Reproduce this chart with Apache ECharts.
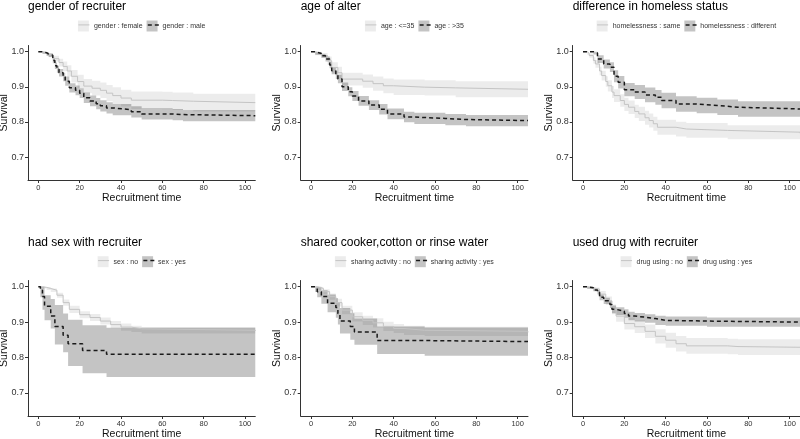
<!DOCTYPE html>
<html><head><meta charset="utf-8">
<script src="https://cdn.jsdelivr.net/npm/echarts@6/dist/echarts.min.js"></script>
<style>html,body{margin:0;padding:0;background:#fff}#c{width:800px;height:439px}</style>
</head><body><div id="c"></div>
<script>
// ---------------- data ----------------
const panelTitles = ['gender of recruiter', 'age of alter', 'difference in homeless status',
  'had sex with recruiter', 'shared cooker,cotton or rinse water', 'used drug with recruiter'];
const groupLabels = [
  ['gender : female', 'gender : male'],
  ['age : <=35', 'age : >35'],
  ['homelessness : same', 'homelessness : different'],
  ['sex : no', 'sex : yes'],
  ['sharing activity : no', 'sharing activity : yes'],
  ['drug using : no', 'drug using : yes']
];
const xTicks = [0, 20, 40, 60, 80, 100];
const yTicks = [0.7, 0.8, 0.9, 1.0];

// gender
const femaleTime  = [0, 2, 4, 5, 7, 10, 12, 14, 16, 19, 22, 26, 30, 33, 36, 40, 45, 60, 65, 75, 105];
const femaleSurv  = [1.0, 0.997, 0.994, 0.99, 0.98, 0.969, 0.958, 0.945, 0.93, 0.915, 0.902, 0.896, 0.89, 0.882, 0.875, 0.868, 0.862, 0.861, 0.859, 0.855, 0.855];
const femaleUpper = [1.0, 1.0, 0.999, 0.996, 0.988, 0.98, 0.972, 0.961, 0.948, 0.934, 0.922, 0.917, 0.912, 0.905, 0.899, 0.892, 0.887, 0.886, 0.884, 0.880, 0.880];
const femaleLower = [1.0, 0.993, 0.988, 0.984, 0.972, 0.958, 0.944, 0.929, 0.912, 0.896, 0.882, 0.875, 0.868, 0.859, 0.851, 0.844, 0.837, 0.836, 0.834, 0.830, 0.830];
const maleTime  = [0, 2, 4, 5, 7, 8, 9, 10, 12, 13, 15, 18, 20, 22, 25, 28, 30, 33, 36, 45, 50, 65, 70, 105];
const maleSurv  = [1.0, 0.997, 0.993, 0.99, 0.975, 0.96, 0.95, 0.94, 0.928, 0.916, 0.897, 0.89, 0.882, 0.869, 0.86, 0.852, 0.846, 0.84, 0.835, 0.829, 0.823, 0.821, 0.818, 0.817];
const maleUpper = [1.0, 1.0, 0.998, 0.995, 0.983, 0.969, 0.96, 0.951, 0.94, 0.929, 0.91, 0.904, 0.896, 0.884, 0.875, 0.868, 0.862, 0.856, 0.851, 0.845, 0.839, 0.837, 0.834, 0.833];
const maleLower = [1.0, 0.994, 0.988, 0.985, 0.967, 0.951, 0.94, 0.929, 0.916, 0.903, 0.884, 0.876, 0.868, 0.854, 0.845, 0.836, 0.83, 0.824, 0.819, 0.813, 0.807, 0.805, 0.802, 0.801];

// age
const youngTime  = [0, 2, 5, 8, 10, 13, 15, 25, 30, 35, 40, 55, 70, 105];
const youngSurv  = [1.0, 0.995, 0.989, 0.974, 0.955, 0.94, 0.922, 0.916, 0.909, 0.903, 0.899, 0.897, 0.893, 0.893];
const youngUpper = [1.0, 1.0, 0.996, 0.986, 0.97, 0.957, 0.94, 0.935, 0.929, 0.924, 0.921, 0.919, 0.916, 0.916];
const youngLower = [1.0, 0.99, 0.982, 0.962, 0.94, 0.923, 0.904, 0.897, 0.889, 0.882, 0.877, 0.875, 0.870, 0.870];
const olderTime  = [0, 2, 5, 7, 9, 10, 12, 13, 15, 18, 20, 23, 28, 33, 37, 45, 50, 65, 75, 105];
const olderSurv  = [1.0, 0.995, 0.988, 0.979, 0.962, 0.946, 0.933, 0.922, 0.9, 0.886, 0.874, 0.86, 0.848, 0.836, 0.823, 0.814, 0.81, 0.807, 0.804, 0.804];
const olderUpper = [1.0, 0.999, 0.993, 0.986, 0.971, 0.956, 0.944, 0.934, 0.912, 0.899, 0.888, 0.874, 0.862, 0.851, 0.838, 0.829, 0.826, 0.823, 0.82, 0.82];
const olderLower = [1.0, 0.991, 0.983, 0.972, 0.953, 0.936, 0.922, 0.91, 0.888, 0.873, 0.86, 0.846, 0.834, 0.821, 0.808, 0.799, 0.794, 0.791, 0.788, 0.788];

// homelessness
const sameTime  = [0, 2, 3, 5, 6, 8, 9, 11, 12, 14, 15, 18, 20, 22, 25, 27, 30, 32, 34, 36, 45, 50, 70, 105];
const sameSurv  = [1.0, 0.995, 0.989, 0.975, 0.965, 0.945, 0.932, 0.915, 0.903, 0.885, 0.875, 0.861, 0.85, 0.842, 0.83, 0.823, 0.812, 0.804, 0.795, 0.785, 0.78, 0.776, 0.771, 0.768];
const sameUpper = [1.0, 0.999, 0.995, 0.984, 0.976, 0.957, 0.946, 0.93, 0.919, 0.902, 0.893, 0.879, 0.869, 0.861, 0.849, 0.843, 0.832, 0.824, 0.815, 0.806, 0.801, 0.797, 0.791, 0.788];
const sameLower = [1.0, 0.991, 0.983, 0.966, 0.954, 0.933, 0.918, 0.9, 0.887, 0.868, 0.857, 0.843, 0.831, 0.823, 0.811, 0.803, 0.792, 0.784, 0.775, 0.764, 0.759, 0.755, 0.751, 0.748];
const diffTime  = [0, 5, 7, 10, 13, 15, 17, 20, 25, 30, 35, 38, 45, 55, 65, 75, 105];
const diffSurv  = [1.0, 0.996, 0.979, 0.965, 0.956, 0.93, 0.913, 0.892, 0.885, 0.877, 0.87, 0.861, 0.851, 0.847, 0.842, 0.837, 0.837];
const diffUpper = [1.0, 1.0, 0.99, 0.978, 0.97, 0.947, 0.931, 0.911, 0.905, 0.898, 0.891, 0.883, 0.873, 0.869, 0.864, 0.859, 0.859];
const diffLower = [1.0, 0.992, 0.968, 0.952, 0.942, 0.913, 0.895, 0.873, 0.865, 0.856, 0.849, 0.839, 0.829, 0.825, 0.82, 0.815, 0.815];

// sex
const sexNoTime  = [0, 2, 4, 6, 9, 12, 15, 20, 25, 30, 35, 40, 45, 50, 105];
const sexNoSurv  = [1.0, 0.998, 0.995, 0.99, 0.976, 0.955, 0.936, 0.921, 0.913, 0.903, 0.893, 0.886, 0.881, 0.877, 0.875];
const sexNoUpper = [1.0, 1.0, 0.999, 0.995, 0.983, 0.964, 0.946, 0.931, 0.923, 0.913, 0.903, 0.896, 0.89, 0.886, 0.884];
const sexNoLower = [1.0, 0.995, 0.991, 0.985, 0.969, 0.946, 0.926, 0.911, 0.903, 0.893, 0.883, 0.876, 0.872, 0.868, 0.866];
const sexYesTime  = [0, 1, 2, 3, 6, 8, 12, 14.4, 21.4, 33, 105];
const sexYesSurv  = [1.0, 0.99, 0.972, 0.945, 0.917, 0.888, 0.863, 0.839, 0.82, 0.809, 0.809];
const sexYesUpper = [1.0, 1.0, 1.0, 0.976, 0.965, 0.948, 0.924, 0.907, 0.891, 0.884, 0.884];
const sexYesLower = [1.0, 0.97, 0.935, 0.905, 0.882, 0.837, 0.815, 0.776, 0.756, 0.745, 0.745];

// sharing
const shareNoTime  = [0, 3, 6, 9, 12, 15, 20, 25, 30, 35, 40, 45, 55, 105];
const shareNoSurv  = [1.0, 0.995, 0.986, 0.972, 0.955, 0.934, 0.915, 0.905, 0.898, 0.888, 0.882, 0.877, 0.874, 0.871];
const shareNoUpper = [1.0, 0.999, 0.993, 0.981, 0.966, 0.946, 0.928, 0.918, 0.911, 0.901, 0.895, 0.89, 0.887, 0.885];
const shareNoLower = [1.0, 0.991, 0.979, 0.963, 0.944, 0.922, 0.902, 0.892, 0.885, 0.875, 0.869, 0.864, 0.861, 0.857];
const shareYesTime  = [0, 2, 3, 5, 8, 12, 13, 14, 19, 21, 32, 55, 105];
const shareYesSurv  = [1.0, 0.995, 0.986, 0.972, 0.953, 0.941, 0.924, 0.903, 0.888, 0.872, 0.848, 0.845, 0.845];
const shareYesUpper = [1.0, 1.0, 1.0, 0.99, 0.978, 0.968, 0.955, 0.94, 0.925, 0.91, 0.888, 0.885, 0.885];
const shareYesLower = [1.0, 0.985, 0.97, 0.952, 0.928, 0.912, 0.893, 0.868, 0.85, 0.836, 0.81, 0.805, 0.805];

// drug use
const drugNoTime  = [0, 2, 5, 8, 11, 14, 16, 20, 25, 30, 35, 40, 45, 50, 70, 75, 105];
const drugNoSurv  = [1.0, 0.997, 0.993, 0.979, 0.96, 0.936, 0.917, 0.896, 0.887, 0.874, 0.86, 0.849, 0.839, 0.833, 0.831, 0.829, 0.829];
const drugNoUpper = [1.0, 1.0, 0.998, 0.988, 0.972, 0.95, 0.933, 0.913, 0.905, 0.893, 0.88, 0.87, 0.861, 0.855, 0.853, 0.852, 0.852];
const drugNoLower = [1.0, 0.994, 0.988, 0.97, 0.948, 0.922, 0.901, 0.879, 0.869, 0.855, 0.84, 0.828, 0.817, 0.811, 0.809, 0.807, 0.807];
const drugYesTime  = [0, 2, 5, 7, 8, 10, 13, 14, 16, 20, 22, 25, 30, 35, 40, 60, 105];
const drugYesSurv  = [1.0, 0.997, 0.991, 0.984, 0.97, 0.96, 0.95, 0.936, 0.931, 0.924, 0.917, 0.914, 0.91, 0.905, 0.903, 0.9, 0.898];
const drugYesUpper = [1.0, 1.0, 0.995, 0.99, 0.978, 0.969, 0.96, 0.947, 0.942, 0.936, 0.929, 0.926, 0.922, 0.918, 0.916, 0.913, 0.912];
const drugYesLower = [1.0, 0.994, 0.987, 0.978, 0.962, 0.951, 0.94, 0.925, 0.92, 0.912, 0.905, 0.902, 0.898, 0.892, 0.89, 0.887, 0.884];

const panelGroups = [
  [[femaleTime, femaleSurv, femaleLower, femaleUpper], [maleTime, maleSurv, maleLower, maleUpper]],
  [[youngTime, youngSurv, youngLower, youngUpper], [olderTime, olderSurv, olderLower, olderUpper]],
  [[sameTime, sameSurv, sameLower, sameUpper], [diffTime, diffSurv, diffLower, diffUpper]],
  [[sexNoTime, sexNoSurv, sexNoLower, sexNoUpper], [sexYesTime, sexYesSurv, sexYesLower, sexYesUpper]],
  [[shareNoTime, shareNoSurv, shareNoLower, shareNoUpper], [shareYesTime, shareYesSurv, shareYesLower, shareYesUpper]],
  [[drugNoTime, drugNoSurv, drugNoLower, drugNoUpper], [drugYesTime, drugYesSurv, drugYesLower, drugYesUpper]]
];

// ---------------- layout / style ----------------
const FONT = '"Liberation Sans", Arial, Helvetica, sans-serif';
const colLeft = [28, 300.7, 572.7];
const plotW = 227.3;
const rowTop = [45.5, 280.5];
const rowH = [134.5, 135.5];
const titleTop = [1, 237];
const legendTop = [20.5, 256.2];
const bandColors = ['rgba(0,0,0,0.075)', 'rgba(0,0,0,0.23)'];
const lineColors = ['#c4c4c4', '#1a1a1a'];
const lineWidths = [1, 1.5];
const lineTypes = ['solid', [4, 3]];
const LEG_FS = 7, KEY = 11, GAP = 4;

const measureCtx = document.createElement('canvas').getContext('2d');
measureCtx.font = LEG_FS + 'px ' + FONT;
const ZW = '\u200b';

// stepped confidence band drawn as one polygon, positioned through the axis scale (api.coord)
function bandRenderer(t, lo, hi, color) {
  return function (params, api) {
    if (params.dataIndex !== 0) return null;
    const up = [], low = [];
    for (let j = 0; j < t.length; j++) {
      up.push(api.coord([t[j], hi[j]]));
      low.push(api.coord([t[j], lo[j]]));
      if (j < t.length - 1) {
        up.push(api.coord([t[j + 1], hi[j]]));
        low.push(api.coord([t[j + 1], lo[j]]));
      }
    }
    const pts = up.concat(low.reverse());
    return { type: 'polygon', shape: { points: pts }, style: { fill: color } };
  };
}

const option = { animation: false, backgroundColor: '#ffffff',
  title: [], legend: [], grid: [], xAxis: [], yAxis: [], series: [] };

panelGroups.forEach(function (groups, i) {
  const r = Math.floor(i / 3), c = i % 3;
  const labels = groupLabels[i];
  option.grid.push({ left: colLeft[c], top: rowTop[r], width: plotW, height: rowH[r],
    containLabel: false, outerBoundsMode: 'none' });
  option.title.push({ text: panelTitles[i], left: colLeft[c], top: titleTop[r], padding: 0,
    textStyle: { fontSize: 12, fontWeight: 'normal', color: '#000', fontFamily: FONT } });
  option.xAxis.push({ type: 'value', gridIndex: i, min: -5, max: 105,
    name: 'Recruitment time', nameLocation: 'middle', nameGap: 13, nameMoveOverlap: false,
    nameTextStyle: { fontSize: 10.5, color: '#111', fontFamily: FONT },
    axisLine: { show: true, onZero: false, lineStyle: { color: '#333', width: 1 } },
    axisTick: { show: true, length: 3, customValues: xTicks, lineStyle: { color: '#333', width: 1 } },
    axisLabel: { customValues: xTicks, margin: 4, fontSize: 7.5, color: '#333', fontFamily: FONT },
    splitLine: { show: false } });
  option.yAxis.push({ type: 'value', gridIndex: i, min: 0.635, max: 1.0175,
    name: 'Survival', nameLocation: 'middle', nameGap: 18, nameMoveOverlap: false,
    nameTextStyle: { fontSize: 10.5, color: '#111', fontFamily: FONT },
    axisLine: { show: true, onZero: false, lineStyle: { color: '#333', width: 1 } },
    axisTick: { show: true, length: 3, customValues: yTicks, lineStyle: { color: '#333', width: 1 } },
    axisLabel: { customValues: yTicks, margin: 4, fontSize: 9, color: '#333', fontFamily: FONT,
      formatter: function (v) { return v.toFixed(1); } },
    splitLine: { show: false } });

  groups.forEach(function (g, k) {
    const t = g[0], s = g[1], lo = g[2], hi = g[3];
    option.series.push({ type: 'custom', name: labels[k], xAxisIndex: i, yAxisIndex: i,
      silent: true, clip: true,
      itemStyle: { color: bandColors[k] },
      encode: { x: 0, y: [1, 2] },
      renderItem: bandRenderer(t, lo, hi, bandColors[k]),
      data: t.map(function (x, j) { return [x, lo[j], hi[j]]; }) });
    option.series.push({ type: 'line', name: labels[k] + ZW, xAxisIndex: i, yAxisIndex: i,
      step: 'end', symbol: 'none', silent: true,
      lineStyle: { width: lineWidths[k], color: lineColors[k], type: lineTypes[k] },
      itemStyle: { color: lineColors[k] },
      data: t.map(function (x, j) { return [x, s[j]]; }) });
  });

  const w = 2 * (KEY + 5) + GAP + measureCtx.measureText(labels[0]).width + measureCtx.measureText(labels[1]).width;
  const left = colLeft[c] + plotW / 2 - w / 2;
  const common = { orient: 'horizontal', left: left, top: legendTop[r], padding: 0,
    itemWidth: KEY, itemHeight: KEY, itemGap: GAP, selectedMode: false };
  option.legend.push(Object.assign({}, common, { z: 4,
    textStyle: { fontSize: LEG_FS, color: '#333', fontFamily: FONT },
    data: labels.map(function (n, k) {
      return { name: n, icon: 'rect', itemStyle: { color: bandColors[k], borderWidth: 0 } };
    }) }));
  option.legend.push(Object.assign({}, common, { z: 5,
    textStyle: { fontSize: LEG_FS, color: 'rgba(0,0,0,0)', fontFamily: FONT },
    formatter: function (n) { return n.replace(ZW, ''); },
    itemStyle: { opacity: 0, color: 'rgba(0,0,0,0)', borderWidth: 0 },
    data: labels.map(function (n, k) {
      return { name: n + ZW,
        itemStyle: { opacity: 0, color: 'rgba(0,0,0,0)', borderWidth: 0 },
        lineStyle: { color: lineColors[k], width: lineWidths[k], type: lineTypes[k] } };
    }) }));
});

const chart = echarts.init(document.getElementById('c'), null, { renderer: 'canvas' });
chart.setOption(option);
</script></body></html>
